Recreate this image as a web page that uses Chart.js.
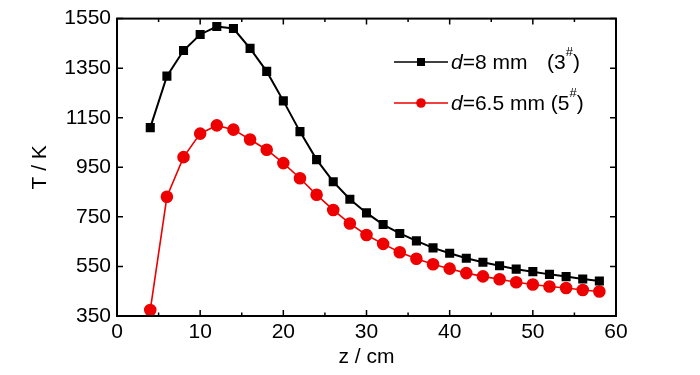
<!DOCTYPE html>
<html>
<head>
<meta charset="utf-8">
<script src="https://cdn.jsdelivr.net/npm/chart.js@4"></script>
<style>
  html, body { margin: 0; padding: 0; background: #fff; }
  #wrap { width: 700px; height: 375px; }
</style>
</head>
<body>
<div id="wrap"><canvas id="chart-temp"></canvas></div>
<script>
  // posiciones z (cm)
  const zPos = [4, 6, 8, 10, 12, 14, 16, 18, 20, 22, 24, 26, 28, 30, 32, 34, 36, 38, 40, 42, 44, 46, 48, 50, 52, 54, 56, 58];

  // d = 8 mm (3#)
  const tempD8 = [1110, 1318, 1421, 1486, 1518, 1510, 1430, 1337, 1218, 1094, 981, 892, 821, 766, 719, 683, 653, 625, 603, 583, 567, 553, 539, 529, 518, 509, 499, 491];

  // d = 6.5 mm (5#)
  const tempD65 = [374, 831, 991, 1086, 1119, 1102, 1062, 1021, 967, 906, 839, 778, 723, 677, 641, 607, 581, 559, 541, 523, 510, 498, 486, 477, 469, 463, 455, 449];

  const yTicks = [350, 550, 750, 950, 1150, 1350, 1550];
  const xTicks = [0, 10, 20, 30, 40, 50, 60];
  const xMinor = [5, 15, 25, 35, 45, 55];

  const FONT = '"Liberation Sans", Arial, sans-serif';
  const FSIZE = 21;

  /* 
    ==================================================
    ========== MARCO, TICKS INTERNOS Y LEYENDA ==========
    ==================================================
  */
  const framePlugin = {
    id: 'frame',
    afterDraw(chart) {
      const { ctx, chartArea: a, scales: { x, y } } = chart;
      ctx.save();
      ctx.strokeStyle = '#000';
      ctx.lineWidth = 2;
      ctx.strokeRect(a.left, a.top, a.right - a.left, a.bottom - a.top);

      ctx.lineWidth = 1.5;
      ctx.beginPath();
      xTicks.forEach(v => {
        let px = x.getPixelForValue(v);
        ctx.moveTo(px, a.bottom); ctx.lineTo(px, a.bottom - 6);
        ctx.moveTo(px, a.top); ctx.lineTo(px, a.top + 6);
      });
      xMinor.forEach(v => {
        let px = x.getPixelForValue(v);
        ctx.moveTo(px, a.bottom); ctx.lineTo(px, a.bottom - 3.5);
        ctx.moveTo(px, a.top); ctx.lineTo(px, a.top + 3.5);
      });
      yTicks.forEach(v => {
        let py = y.getPixelForValue(v);
        ctx.moveTo(a.left, py); ctx.lineTo(a.left + 6, py);
        ctx.moveTo(a.right, py); ctx.lineTo(a.right - 6, py);
      });
      ctx.stroke();

      // leyenda
      const items = [
        { color: '#000', style: 'rect', num: '8', sup: '3', gap: true },
        { color: '#ee0000', style: 'circle', num: '6.5', sup: '5', gap: false }
      ];
      items.forEach((it, i) => {
        let ly = 62 + i * 41;
        ctx.strokeStyle = it.color;
        ctx.fillStyle = it.color;
        ctx.lineWidth = 1.6;
        ctx.beginPath();
        ctx.moveTo(394, ly); ctx.lineTo(448, ly);
        ctx.stroke();
        if (it.style === 'rect') {
          ctx.fillRect(421 - 4, ly - 4, 8, 8);
        } else {
          ctx.beginPath();
          ctx.arc(421, ly, 4.8, 0, Math.PI * 2);
          ctx.fill();
        }
        ctx.fillStyle = '#000';
        ctx.textBaseline = 'middle';
        let tx = 451;
        ctx.font = 'italic ' + FSIZE + 'px ' + FONT;
        ctx.fillText('d', tx, ly + 1);
        tx += ctx.measureText('d').width;
        ctx.font = FSIZE + 'px ' + FONT;
        let txt = '=' + it.num + ' mm';
        ctx.fillText(txt, tx, ly + 1);
        tx = it.gap ? 547 : tx + ctx.measureText(txt + ' ').width;
        ctx.fillText('(' + it.sup, tx, ly + 1);
        tx += ctx.measureText('(' + it.sup).width;
        ctx.font = '13px ' + FONT;
        ctx.fillText('#', tx, ly - 10);
        tx += ctx.measureText('#').width;
        ctx.font = FSIZE + 'px ' + FONT;
        ctx.fillText(')', tx, ly + 1);
      });
      ctx.restore();
    }
  };

  /* 
    ==================================================
    ================= GRAFICO TEMPERATURA ==============
    ==================================================
  */

  /** @type {HTMLCanvasElement} */
  let canvasTemp = document.getElementById('chart-temp').getContext('2d');

  let tempChart = new Chart(canvasTemp, {
    type: 'line',
    data: {
      datasets: [{
        label: 'd=8 mm (3#)',
        data: zPos.map((z, i) => ({ x: z, y: tempD8[i] })),
        borderColor: '#000',
        backgroundColor: '#000',
        borderWidth: 2,
        pointStyle: 'rect',
        pointRadius: 5,
        pointHoverRadius: 5,
        fill: false
      }, {
        label: 'd=6.5 mm (5#)',
        data: zPos.map((z, i) => ({ x: z, y: tempD65[i] })),
        borderColor: '#ee0000',
        backgroundColor: '#ee0000',
        borderWidth: 1.6,
        pointStyle: 'circle',
        pointRadius: 5.5,
        pointHoverRadius: 5.5,
        fill: false
      }]
    },
    options: {
      responsive: true,
      maintainAspectRatio: false,
      animation: false,
      events: [],
      layout: { padding: { left: 0, top: 16, right: 84, bottom: 0 } },
      plugins: {
        legend: { display: false },
        tooltip: { enabled: false }
      },
      scales: {
        x: {
          type: 'linear',
          min: 0, max: 60,
          afterFit: s => { s.height = 59; },
          afterBuildTicks: s => { s.ticks = xTicks.map(v => ({ value: v })); },
          grid: { display: false, drawTicks: false },
          border: { display: false },
          ticks: { color: '#000', padding: 4, font: { family: FONT, size: FSIZE }, maxRotation: 0, callback: v => String(v) },
          title: { display: true, text: 'z / cm', color: '#000', padding: { top: 0, bottom: 5 }, font: { family: FONT, size: FSIZE } }
        },
        y: {
          min: 350, max: 1550,
          afterFit: s => { s.width = 117; },
          afterBuildTicks: s => { s.ticks = yTicks.map(v => ({ value: v })); },
          grid: { display: false, drawTicks: false },
          border: { display: false },
          ticks: { color: '#000', padding: 6, font: { family: FONT, size: FSIZE }, callback: v => String(v) },
          title: { display: true, text: 'T / K', color: '#000', padding: { top: 28, bottom: 0 }, font: { family: FONT, size: FSIZE } }
        }
      }
    },
    plugins: [framePlugin]
  });
</script>
</body>
</html>
